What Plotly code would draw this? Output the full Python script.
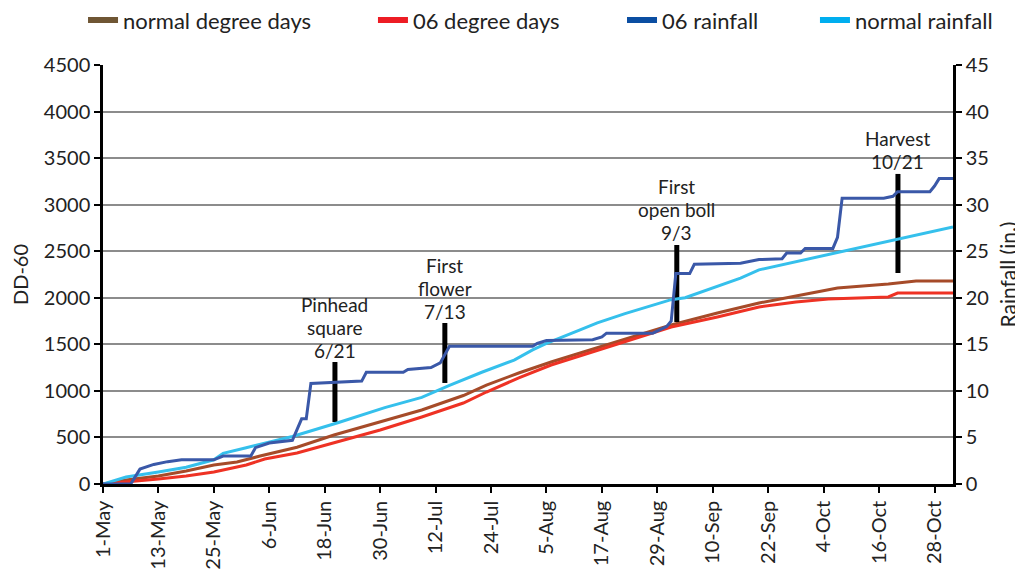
import plotly.graph_objects as go

# ---------------- data ----------------
tick_dates = ["2006-05-01", "2006-05-13", "2006-05-25", "2006-06-06", "2006-06-18", "2006-06-30",
              "2006-07-12", "2006-07-24", "2006-08-05", "2006-08-17", "2006-08-29", "2006-09-10",
              "2006-09-22", "2006-10-04", "2006-10-16", "2006-10-28"]
tick_labels = ["1-May", "13-May", "25-May", "6-Jun", "18-Jun", "30-Jun", "12-Jul", "24-Jul",
               "5-Aug", "17-Aug", "29-Aug", "10-Sep", "22-Sep", "4-Oct", "16-Oct", "28-Oct"]

dd_normal_dates = ["2006-05-01", "2006-05-06", "2006-05-13", "2006-05-19", "2006-05-25", "2006-05-30",
                   "2006-06-04", "2006-06-12", "2006-06-20", "2006-06-30", "2006-07-09", "2006-07-18",
                   "2006-07-23", "2006-07-30", "2006-08-06", "2006-08-13", "2006-08-23", "2006-09-01",
                   "2006-09-11", "2006-09-20", "2006-09-28", "2006-10-07", "2006-10-18", "2006-10-24",
                   "2006-11-01"]
dd_normal = [0, 43, 86, 140, 204, 236, 300, 395, 526, 666, 795, 950, 1063, 1192, 1310, 1418, 1568,
             1708, 1837, 1944, 2019, 2105, 2148, 2180, 2180]

dd_06_dates = ["2006-05-01", "2006-05-06", "2006-05-13", "2006-05-19", "2006-05-25", "2006-06-01",
               "2006-06-05", "2006-06-12", "2006-06-20", "2006-06-30", "2006-07-09", "2006-07-18",
               "2006-07-23", "2006-07-30", "2006-08-06", "2006-08-13", "2006-08-23", "2006-09-01",
               "2006-09-11", "2006-09-20", "2006-09-28", "2006-10-05", "2006-10-18", "2006-10-20",
               "2006-11-01"]
dd_06 = [0, 21, 54, 86, 129, 204, 268, 333, 440, 580, 720, 870, 988, 1139, 1278, 1386, 1547, 1686,
         1794, 1901, 1955, 1987, 2009, 2051, 2051]

rain_06_dates = ["2006-05-01", "2006-05-07", "2006-05-09", "2006-05-12", "2006-05-15", "2006-05-18",
                 "2006-05-25", "2006-05-27", "2006-06-02", "2006-06-03", "2006-06-06", "2006-06-10",
                 "2006-06-11", "2006-06-13", "2006-06-14", "2006-06-15", "2006-06-20", "2006-06-26",
                 "2006-06-27", "2006-07-05", "2006-07-06", "2006-07-11", "2006-07-13", "2006-07-15",
                 "2006-08-02", "2006-08-03", "2006-08-05", "2006-08-15", "2006-08-17", "2006-08-18",
                 "2006-08-28", "2006-08-31", "2006-09-01", "2006-09-02", "2006-09-05", "2006-09-06",
                 "2006-09-16", "2006-09-20", "2006-09-25", "2006-09-26", "2006-09-29", "2006-09-30",
                 "2006-10-06", "2006-10-07", "2006-10-08", "2006-10-17", "2006-10-19", "2006-10-20",
                 "2006-10-27", "2006-10-28", "2006-10-29", "2006-11-01"]
rain_06 = [0, 0, 1.6, 2.1, 2.4, 2.6, 2.6, 3.0, 3.0, 3.9, 4.4, 4.6, 4.7, 7.0, 7.0, 10.8, 10.9, 11.05,
           12.0, 12.0, 12.3, 12.5, 13.0, 14.8, 14.8, 15.1, 15.4, 15.5, 15.8, 16.2, 16.2, 16.9, 17.5,
           22.6, 22.6, 23.6, 23.7, 24.1, 24.2, 24.8, 24.8, 25.3, 25.3, 26.5, 30.7, 30.7, 30.9, 31.4,
           31.4, 32.0, 32.8, 32.8]

rain_normal_dates = ["2006-05-01", "2006-05-06", "2006-05-13", "2006-05-19", "2006-05-25", "2006-05-27",
                     "2006-06-01", "2006-06-06", "2006-06-11", "2006-06-21", "2006-07-01", "2006-07-09",
                     "2006-07-15", "2006-07-22", "2006-07-29", "2006-08-02", "2006-08-05", "2006-08-12",
                     "2006-08-16", "2006-08-22", "2006-08-26", "2006-09-01", "2006-09-04", "2006-09-11",
                     "2006-09-16", "2006-09-20", "2006-09-29", "2006-10-07", "2006-10-21", "2006-11-01"]
rain_normal = [0, 0.75, 1.3, 1.8, 2.6, 3.3, 3.9, 4.5, 5.1, 6.6, 8.2, 9.3, 10.6, 12.0, 13.3, 14.4, 15.1,
               16.5, 17.3, 18.3, 18.9, 19.8, 20.0, 21.2, 22.1, 23.0, 24.0, 24.9, 26.4, 27.6]

event_labels = [["Pinhead", "square", "6/21"], ["First", "flower", "7/13"],
                ["First", "open boll", "9/3"], ["Harvest", "10/21"]]
event_dates = ["2006-06-20 05:00", "2006-07-14 00:00", "2006-09-02 05:00", "2006-10-20 02:00"]
event_low = [666, 1085, 1740, 2266]
event_high = [1310, 1729, 2567, 3330]

series_names = ["normal degree days", "06 degree days", "06 rainfall", "normal rainfall"]
line_colors = ["#A64B29", "#EE3224", "#3A58A8", "#35C0EC"]
legend_colors = ["#6F5634", "#ED1C24", "#0B4EA2", "#00AEEF"]
legend_ids = ["legend", "legend2", "legend3", "legend4"]
legend_x = [-0.0235, 0.3176, 0.6106, 0.8376]

FONT = "Lato"
TXT = "#222222"

fig = go.Figure()

# legend-only entries (one legend box per entry to reproduce spacing)
for name, col, lid in zip(series_names, legend_colors, legend_ids):
    fig.add_trace(go.Scatter(x=[None], y=[None], mode="lines", name=name, legend=lid,
                             line=dict(color=col, width=6)))

fig.add_trace(go.Scatter(x=dd_normal_dates, y=dd_normal, mode="lines", showlegend=False,
                         line=dict(color=line_colors[0], width=3)))
fig.add_trace(go.Scatter(x=dd_06_dates, y=dd_06, mode="lines", showlegend=False,
                         line=dict(color=line_colors[1], width=3)))
fig.add_trace(go.Scatter(x=rain_normal_dates, y=rain_normal, mode="lines", showlegend=False,
                         yaxis="y2", line=dict(color=line_colors[3], width=3)))
fig.add_trace(go.Scatter(x=rain_06_dates, y=rain_06, mode="lines", showlegend=False,
                         yaxis="y2", line=dict(color=line_colors[2], width=3)))

for d, lo, hi, lines in zip(event_dates, event_low, event_high, event_labels):
    fig.add_trace(go.Scatter(x=[d, d], y=[lo, hi], mode="lines", showlegend=False,
                             hoverinfo="skip", line=dict(color="black", width=5)))
    n = len(lines)
    for i, ln in enumerate(lines):
        fig.add_annotation(x=d, y=hi, text=ln, showarrow=False, yanchor="middle",
                           xanchor="center", yshift=12 + (n - 1 - i) * 23,
                           borderpad=0,
                           font=dict(family=FONT, size=19, color=TXT))

legend_common = dict(orientation="h", xanchor="left", y=1.107, yanchor="middle",
                     font=dict(family=FONT, size=22, color=TXT), bgcolor="rgba(0,0,0,0)")

# page body has an 8px margin -> figure is offset by 8px
fig.update_layout(
    width=1015, height=564,
    margin=dict(l=95, r=70, t=57, b=88, autoexpand=False),
    paper_bgcolor="white", plot_bgcolor="white",
    font=dict(family=FONT, size=20, color=TXT),
    xaxis=dict(type="date", range=["2006-05-01", "2006-11-01"], tickmode="array",
               tickvals=tick_dates, ticktext=tick_labels, tickangle=-90,
               ticks="outside", ticklen=6, tickwidth=2, tickcolor="black",
               showline=True, linecolor="black", linewidth=2.5, showgrid=False, zeroline=False,
               tickfont=dict(size=20)),
    yaxis=dict(range=[0, 4500], dtick=500, tick0=0, showgrid=True, gridcolor="#8C8C8C",
               gridwidth=2, showline=True, linecolor="black", linewidth=2.5, zeroline=False,
               ticks="outside", ticklen=6, tickwidth=2, tickcolor="black",
               title=dict(text="DD-60", font=dict(size=20), standoff=18), tickfont=dict(size=20)),
    yaxis2=dict(range=[0, 45], dtick=5, tick0=0, overlaying="y", side="right", showgrid=False,
                showline=True, linecolor="black", linewidth=2.5, zeroline=False,
                ticks="outside", ticklen=6, tickwidth=2, tickcolor="black",
                title=dict(text="Rainfall (in.)", font=dict(size=21), standoff=14),
                tickfont=dict(size=20)),
)
for lid, lx in zip(legend_ids, legend_x):
    fig.update_layout({lid: dict(x=lx, **legend_common)})

fig.write_html("out.html")
